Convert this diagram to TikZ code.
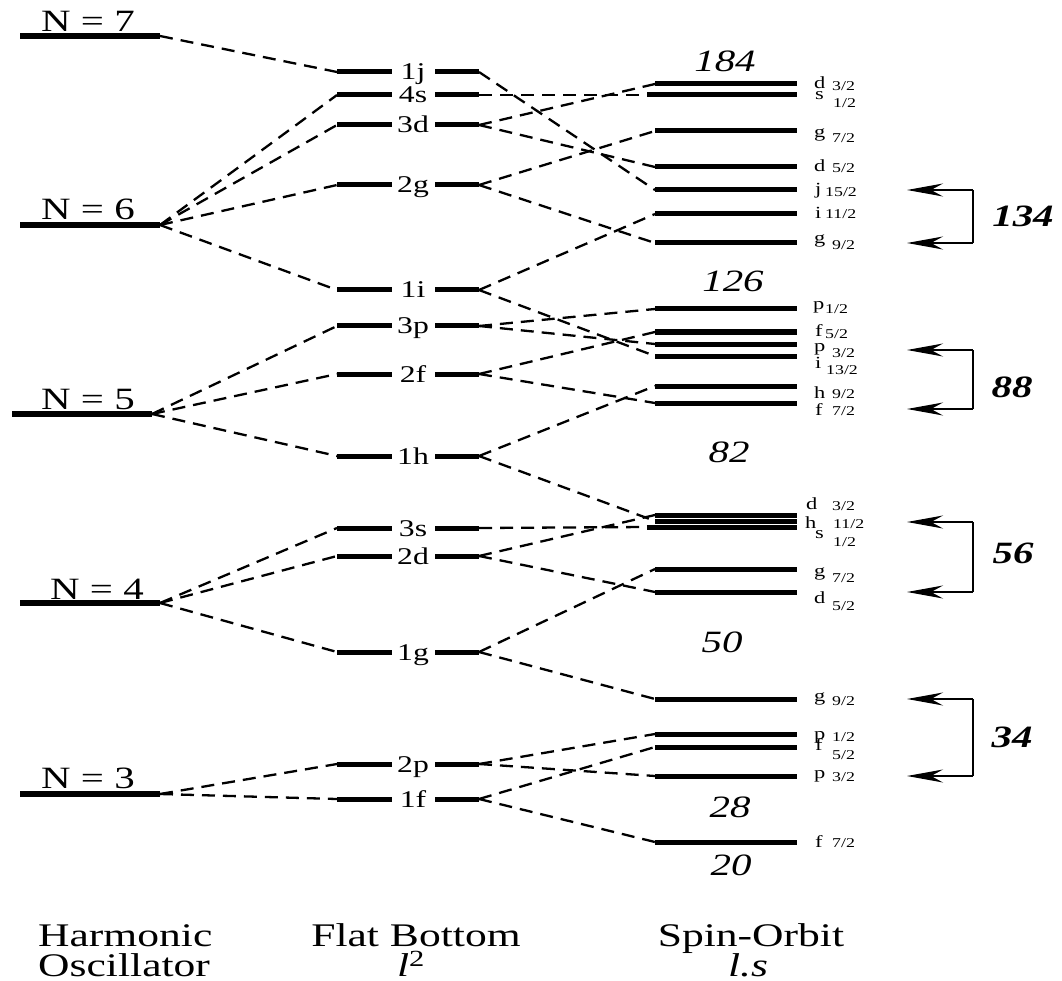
\documentclass[tikz,border=0pt]{standalone}
\usepackage{fontspec}
\setmainfont{Liberation Serif}[FakeStretch=1.32]
\usetikzlibrary{arrows.meta}
\tikzset{
  lev/.style={line width=5pt},
  hlev/.style={line width=6pt},
  conn/.style={line width=2.3pt, dash pattern=on 13pt off 8pt},
  nlab/.style={font=\fontsize{31}{36}\selectfont, anchor=base, inner sep=0pt},
  mlab/.style={font=\fontsize{24}{28}\selectfont, anchor=base, inner sep=0pt},
  magic/.style={font=\fontsize{31}{36}\selectfont\itshape, anchor=base, inner sep=0pt},
  bmagic/.style={font=\fontsize{31}{36}\selectfont\bfseries\itshape, anchor=base, inner sep=0pt},
  orb/.style={font=\fontsize{17}{20}\selectfont, anchor=base west, inner sep=0pt},
  orbsub/.style={font=\fontsize{13.5}{16}\selectfont, anchor=base west, inner sep=0pt},
  ttl/.style={font=\fontsize{33}{40}\selectfont, inner sep=0pt},
  ttlb/.style={ttl, text depth=0pt},
  brk/.style={line width=1.2pt},
  arr/.style={brk, -{Stealth[length=36pt,width=13pt,inset=12pt]}},
}
\begin{document}
\begin{tikzpicture}[x=1pt,y=-1pt]
\useasboundingbox (0,0) rectangle (1062,981);

% ---------- Harmonic oscillator levels
\foreach \n/\xl/\xr/\y in {N7/20/160/36, N6/20/160/225, N5/12/152/414, N4/20/160/603, N3/20/160/794}{
  \coordinate (\n L) at (\xl,\y);
  \coordinate (\n R) at (\xr,\y);
  \draw[hlev] (\n L) -- (\n R);
}
\node[nlab] (t7) at (88,32) {N = 7};
\node[nlab] (t6) at (88,220) {N = 6};
\node[nlab] (t5) at (88,409) {N = 5};
\node[nlab] (t4) at (97,599) {N = 4};
\node[nlab] (t3) at (88,788) {N = 3};

% ---------- Flat bottom levels
\foreach \n/\y in {1j/72, 4s/95, 3d/125, 2g/185, 1i/290, 3p/326, 2f/374, 1h/456, 3s/528, 2d/556, 1g/652, 2p/764, 1f/799}{
  \coordinate (m\n L) at (337,\y);
  \coordinate (m\n R) at (479,\y);
  \draw[lev] (m\n L) -- (392,\y);
  \draw[lev] (435,\y) -- (m\n R);
  \node[mlab] (ml\n) at (413,\y+8) {\n};
}

% ---------- Spin-orbit levels
\foreach \n/\y/\xl in {d3a/84/655, s1a/95/647, g7a/131/655, d5a/167/655, j15/190/655, i11/214/655, g9a/243/655,
  p1a/309/655, f5a/332/655, p3a/344/655, i13/356/655, h9/386/655, f7a/403/655,
  d3b/515/655, h11/521/655, s1b/527/647, g7b/569/655, d5b/592/655,
  g9b/699/655, p1b/734/655, f5b/747/655, p3b/776/655, f7b/842/655}{
  \coordinate (r\n) at (\xl,\y);
  \coordinate (r\n E) at (797,\y);
  \draw[lev] (r\n) -- (r\n E);
}

% ---------- connectors HO -> flat bottom
\draw[conn] (N7R) -- (m1jL);
\foreach \m in {4s,3d,2g,1i} \draw[conn] (N6R) -- (m\m L);
\foreach \m in {3p,2f,1h} \draw[conn] (N5R) -- (m\m L);
\foreach \m in {3s,2d,1g} \draw[conn] (N4R) -- (m\m L);
\foreach \m in {2p,1f} \draw[conn] (N3R) -- (m\m L);

% ---------- connectors flat bottom -> spin-orbit
\foreach \m/\r in {1j/j15, 4s/s1a, 3d/d3a, 3d/d5a, 2g/g7a, 2g/g9a, 1i/i11, 1i/i13,
  3p/p1a, 3p/p3a, 2f/f5a, 2f/f7a, 1h/h9, 1h/h11, 3s/s1b, 2d/d3b, 2d/d5b,
  1g/g7b, 1g/g9b, 2p/p1b, 2p/p3b, 1f/f5b, 1f/f7b}
  \draw[conn] (m\m R) -- (r\r);

% ---------- orbital labels
\foreach \k/\l/\lx/\ly/\s/\sx/\sy in {
  a/d/814/89/3\slash 2/832/91,
  b/s/815/100/1\slash 2/833/108,
  c/g/814/138/7\slash 2/832/143,
  d/d/814/172/5\slash 2/832/173,
  e/j/815/195/15\slash 2/825/197,
  f/i/815/219/11\slash 2/825/219,
  g/g/814/244/9\slash 2/832/250,
  h/p/813/310/1\slash 2/825/314,
  i/f/815/337/5\slash 2/825/338,
  j/p/814/352/3\slash 2/832/357,
  k/i/815/368/13\slash 2/826/374,
  l/h/814/398/9\slash 2/832/398,
  m/f/815/415/7\slash 2/832/415,
  n/d/806/509/3\slash 2/832/510,
  o/h/805/528/11\slash 2/833/528,
  p/s/815/538/1\slash 2/833/546,
  q/g/814/576/7\slash 2/832/582,
  r/d/814/603/5\slash 2/832/610,
  s/g/814/701/9\slash 2/832/705,
  t/p/814/739/1\slash 2/832/741,
  u/f/815/750/5\slash 2/832/759,
  v/p/814/778/3\slash 2/832/781,
  w/f/815/847/7\slash 2/832/847}{
  \node[orb] (ol\k) at (\lx,\ly) {\l};
  \node[orbsub] (os\k) at (\sx,\sy) {\s};
}

% ---------- magic numbers
\node[magic] (n184) at (725,72) {184};
\node[magic] (n126) at (733,292) {126};
\node[magic] (n82) at (729,462) {82};
\node[magic] (n50) at (722,652) {50};
\node[magic] (n28) at (730,817) {28};
\node[magic] (n20) at (731,875) {20};

% ---------- brackets
\foreach \k/\yt/\yb in {a/190/243, b/350/409, c/522/592, d/699/776}{
  \coordinate (bt\k) at (973,\yt);
  \coordinate (bb\k) at (973,\yb);
  \coordinate (at\k) at (907,\yt);
  \coordinate (ab\k) at (907,\yb);
  \draw[brk] (bt\k) -- (bb\k);
  \draw[arr] (bt\k) -- (at\k);
  \draw[arr] (bb\k) -- (ab\k);
}
\node[bmagic] (n134) at (1023,227) {134};
\node[bmagic] (n88) at (1012,397) {88};
\node[bmagic] (n56) at (1013,563) {56};
\node[bmagic] (n34) at (1012,747) {34};

% ---------- titles
\node[ttlb, anchor=base west] (h1) at (38,946) {Harmonic};
\node[ttlb, anchor=base west] (h2) at (38,976) {Oscillator};
\node[ttlb, anchor=base] (f1) at (416,946) {Flat Bottom};
\node[ttlb, anchor=base] (f2) at (411,976) {\textit{l}\textsuperscript{2}};
\node[ttlb, anchor=base] (s1) at (751,946) {Spin-Orbit};
\node[ttlb, anchor=base] (s2) at (748,976) {\textit{l.s}};
\end{tikzpicture}
\end{document}
